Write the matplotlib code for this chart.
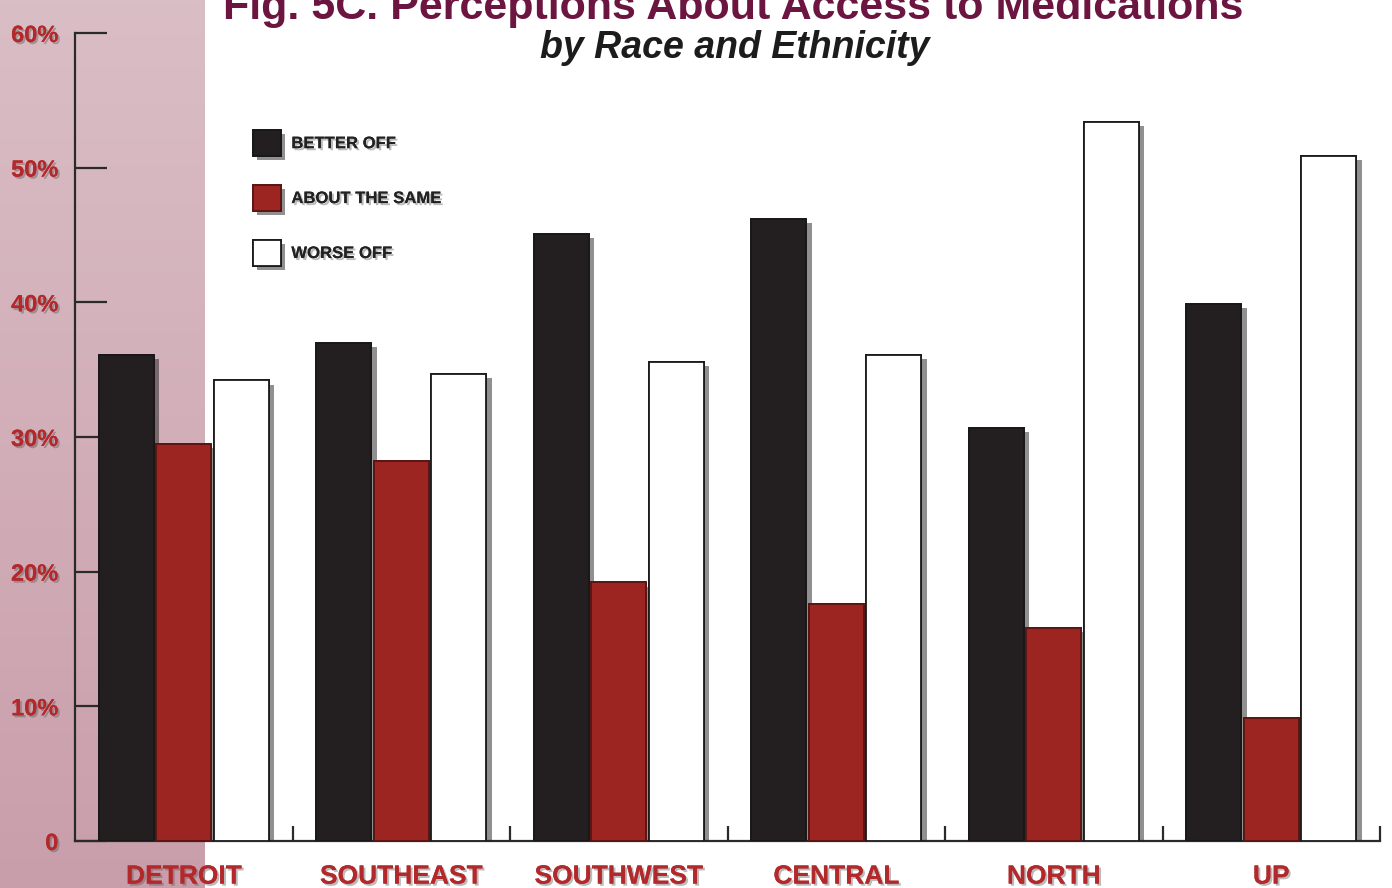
import numpy as np
import matplotlib
matplotlib.use("Agg")
import matplotlib.pyplot as plt
import matplotlib.patheffects as pe
from matplotlib.patches import Patch

regions = ["DETROIT", "SOUTHEAST", "SOUTHWEST", "CENTRAL", "NORTH", "UP"]
series_names = ["BETTER OFF", "ABOUT THE SAME", "WORSE OFF"]
better_off = [36.1, 37.0, 45.1, 46.2, 30.7, 39.9]
about_same = [29.5, 28.2, 19.2, 17.6, 15.8, 9.1]
worse_off = [34.2, 34.7, 35.6, 36.1, 53.4, 50.9]
y_ticks = [0, 10, 20, 30, 40, 50, 60]
y_tick_labels = ["0", "10%", "20%", "30%", "40%", "50%", "60%"]

title = "Fig. 5C. Perceptions About Access to Medications"
subtitle = "by Race and Ethnicity"

W, H = 1392, 888
fig = plt.figure(figsize=(W / 100, H / 100), dpi=100)
fig.patch.set_facecolor("white")

# rose gradient band on the left edge
band = fig.add_axes([0, 0, 205 / W, 1], zorder=0)
grad = np.linspace(0, 1, 256).reshape(-1, 1)
top_c = np.array([218, 190, 197]) / 255
bot_c = np.array([201, 158, 171]) / 255
img = top_c * (1 - grad[..., None]) + bot_c * grad[..., None]
band.imshow(img, aspect="auto", extent=[0, 1, 0, 1])
band.set_axis_off()

ax = fig.add_axes([75 / W, 1 - 841 / H, (1380 - 75) / W, (841 - 33) / H], zorder=1)
ax.set_facecolor("none")

x = np.arange(len(regions))
width = 0.253
step = 0.265
colors = ["#231f20", "#9c2421", "#ffffff"]
edges = ["#1a1718", "#5a1414", "#1a1a1a"]
bar_shadow = [pe.withSimplePatchShadow(offset=(4, -3), shadow_rgbFace="#222222", alpha=0.5), pe.Normal()]

for i, vals in enumerate([better_off, about_same, worse_off]):
    bc = ax.bar(x + (i - 1) * step, vals, width=width, color=colors[i],
                edgecolor=edges[i], linewidth=1.3, zorder=3)
    for b in bc:
        b.set_path_effects(bar_shadow)

ax.set_xlim(-0.5, 5.5)
ax.set_ylim(0, 60)

for s in ["top", "right"]:
    ax.spines[s].set_visible(False)
for s in ["left", "bottom"]:
    ax.spines[s].set_color("#2a2a2a")
    ax.spines[s].set_linewidth(1.6)

red_txt = "#b3292b"
txt_shadow = [pe.withSimplePatchShadow(offset=(1.5, -1.5), shadow_rgbFace="#555555", alpha=0.4), pe.Normal()]

ax.set_yticks(y_ticks)
ax.set_yticklabels(y_tick_labels)
ax.tick_params(axis="y", direction="in", length=23, width=1.6, color="#2a2a2a", pad=12)
for lab in ax.get_yticklabels():
    lab.set_fontfamily("Liberation Sans")
    lab.set_fontweight("bold")
    lab.set_fontsize(17)
    lab.set_color(red_txt)
    lab.set_path_effects(txt_shadow)

ax.set_xticks(np.arange(0.5, 5.6, 1.0))
ax.set_xticklabels([])
ax.tick_params(axis="x", which="major", direction="in", length=11, width=1.6, color="#2a2a2a")
ax.set_xticks(x, minor=True)
ax.set_xticklabels(regions, minor=True)
ax.tick_params(axis="x", which="minor", length=0, pad=17)
for lab in ax.get_xticklabels(minor=True):
    lab.set_fontfamily("Liberation Sans")
    lab.set_fontweight("bold")
    lab.set_fontsize(19)
    lab.set_color(red_txt)
    lab.set_path_effects(txt_shadow)

handles = [Patch(facecolor=colors[i], edgecolor=edges[i], linewidth=1.3) for i in range(3)]
leg = ax.legend(handles, series_names, loc="upper left",
                bbox_to_anchor=(253 / W, 1 - 130 / H), bbox_transform=fig.transFigure,
                frameon=False, borderpad=0, borderaxespad=0,
                handlelength=1.65, handleheight=2.0, labelspacing=1.75, handletextpad=0.65,
                prop={"family": "Liberation Sans", "weight": "bold", "size": 12})
for t in leg.get_texts():
    t.set_color("#222222")
    t.set_path_effects(txt_shadow)
for h in leg.legend_handles:
    h.set_path_effects([pe.withSimplePatchShadow(offset=(3, -3), shadow_rgbFace="#222222", alpha=0.5), pe.Normal()])

fig.text(733 / W, 1 - 19 / H, title, ha="center", va="baseline",
         fontfamily="Liberation Sans", fontweight="bold", fontsize=31, color="#6b1540")
fig.text(735 / W, 1 - 58 / H, subtitle, ha="center", va="baseline",
         fontfamily="Liberation Sans", fontweight="bold", fontstyle="italic",
         fontsize=27, color="#1c1c1c")

fig.savefig("out.png", dpi=100)
